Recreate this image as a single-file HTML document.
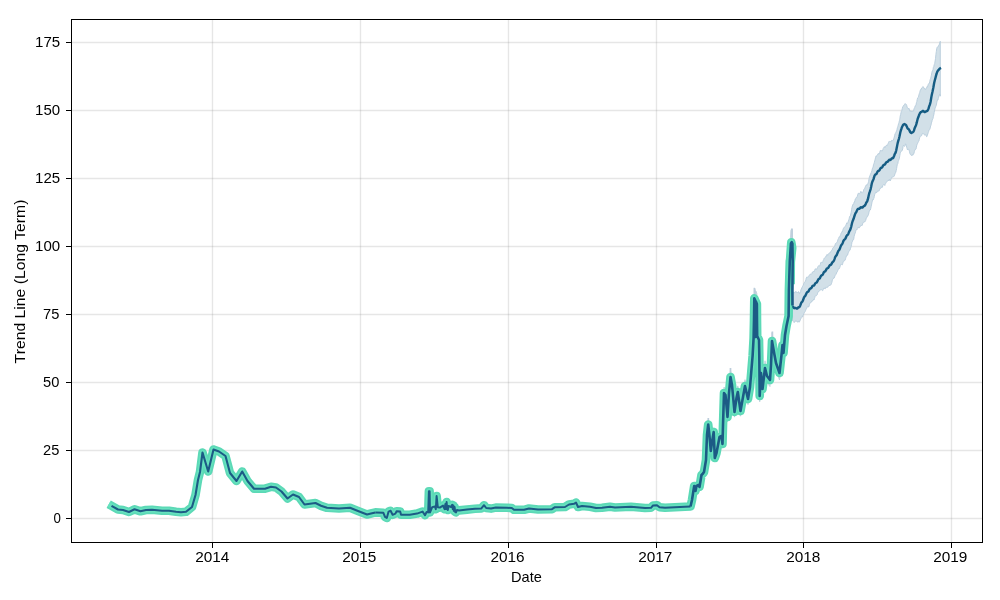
<!DOCTYPE html>
<html><head><meta charset="utf-8"><title>Trend</title>
<style>
html,body{margin:0;padding:0;background:#fff;}
body{width:1000px;height:600px;overflow:hidden;}
svg{display:block;}
text{font-family:"Liberation Sans",sans-serif;font-size:14.4px;fill:#000;}
</style></head><body>
<svg width="1000" height="600" viewBox="0 0 1000 600">
<rect x="0" y="0" width="1000" height="600" fill="#fff"/>

<g stroke="#808080" stroke-opacity="0.2" stroke-width="1.39" fill="none">
<path d="M212.5,19.5V542.5"/>
<path d="M360.5,19.5V542.5"/>
<path d="M508.5,19.5V542.5"/>
<path d="M656.5,19.5V542.5"/>
<path d="M803.5,19.5V542.5"/>
<path d="M951.5,19.5V542.5"/>
<path d="M71.5,518.5H982.5"/>
<path d="M71.5,450.5H982.5"/>
<path d="M71.5,382.5H982.5"/>
<path d="M71.5,314.5H982.5"/>
<path d="M71.5,246.5H982.5"/>
<path d="M71.5,178.5H982.5"/>
<path d="M71.5,110.5H982.5"/>
<path d="M71.5,42.5H982.5"/>
</g>
<defs><clipPath id="c"><rect x="72" y="20" width="910" height="522"/></clipPath></defs>
<g clip-path="url(#c)">
<path d="M112.4,505.7 L118.0,509.1 L123.0,509.6 L129.0,511.7 L134.5,508.9 L140.5,511.0 L146.0,509.6 L152.0,509.3 L162.0,510.3 L169.0,510.3 L176.0,511.5 L181.0,511.9 L186.0,511.5 L192.0,506.4 L195.5,493.9 L198.0,478.2 L200.0,469.8 L202.5,449.3 L208.2,469.2 L213.5,446.2 L219.0,448.3 L225.5,453.0 L230.0,470.8 L236.5,479.2 L242.2,469.2 L247.5,479.2 L254.0,487.3 L265.0,487.3 L271.0,485.3 L276.0,486.0 L281.5,490.2 L287.5,497.5 L293.0,493.3 L299.0,496.0 L304.5,503.8 L315.5,502.3 L321.0,505.2 L327.0,507.3 L339.0,508.0 L350.0,507.3 L358.0,510.6 L367.0,514.3 L371.0,513.3 L375.4,512.1 L383.4,512.5 L385.0,516.7 L386.8,518.0 L388.6,511.3 L390.6,510.4 L392.6,514.6 L395.4,513.4 L396.6,510.8 L400.2,511.3 L401.0,514.6 L409.8,514.6 L417.0,513.4 L422.6,511.3 L425.0,515.0 L426.6,511.7 L428.2,512.1 L428.9,489.9 L429.6,489.9 L430.0,512.1 L432.2,506.7 L435.0,505.8 L435.8,508.8 L436.6,494.9 L437.8,506.7 L439.8,507.1 L443.0,505.0 L444.6,508.8 L445.4,503.3 L446.0,508.5 L446.6,501.2 L447.2,508.5 L447.8,509.6 L448.6,505.4 L449.8,505.8 L451.0,506.4 L452.2,504.1 L452.8,508.5 L453.4,504.9 L453.8,510.4 L454.6,506.4 L455.2,511.7 L456.0,512.1 L457.0,509.6 L459.0,510.0 L467.0,509.2 L475.0,508.3 L481.4,507.9 L484.0,504.6 L486.2,507.5 L491.0,508.1 L495.8,507.1 L507.0,507.3 L511.8,507.5 L514.0,509.4 L524.0,509.4 L529.0,508.0 L538.0,509.1 L552.0,508.8 L555.0,506.7 L565.0,506.4 L569.0,503.8 L574.0,503.1 L576.0,501.7 L578.0,506.4 L582.0,505.4 L590.0,506.2 L596.0,507.5 L602.0,507.3 L610.0,506.2 L615.0,507.0 L631.0,506.2 L645.0,507.5 L651.0,507.3 L653.0,504.9 L657.0,504.6 L659.5,506.7 L665.0,507.3 L675.0,506.7 L685.0,506.2 L690.5,505.9 L692.0,499.1 L694.2,484.4 L695.5,489.7 L696.5,484.4 L698.5,483.4 L699.5,485.5 L701.5,472.9 L703.0,471.3 L704.0,469.8 L706.0,457.2 L707.0,431.0 L708.2,420.0 L709.5,432.0 L710.8,447.8 L712.2,437.3 L713.7,427.8 L714.8,455.1 L716.5,449.9 L719.5,433.1 L721.5,432.0 L722.5,440.4 L723.0,420.5 L724.0,387.0 L725.5,389.1 L727.5,412.1 L729.0,387.0 L730.5,370.2 L732.0,378.6 L734.5,406.9 L736.5,392.2 L737.8,385.9 L740.5,405.8 L743.0,391.2 L745.0,379.6 L748.0,393.3 L750.0,380.7 L752.6,348.2 L753.6,329.3 L754.0,310.5 L754.3,287.8 L755.5,290.6 L755.6,328.3 L755.9,291.1 L756.9,293.7 L757.0,310.5 L757.2,327.2 L759.0,331.4 L759.3,348.2 L759.7,390.1 L761.0,366.0 L762.5,382.8 L765.0,360.8 L767.0,369.2 L770.0,373.4 L771.0,357.6 L772.0,332.5 L774.5,347.2 L776.0,355.5 L779.5,366.0 L781.5,347.2 L782.5,336.7 L783.5,345.1 L785.0,326.2 L786.5,316.8 L788.6,306.3 L788.9,279.0 L789.8,248.6 L790.9,230.3 L791.7,228.9 L792.4,230.3 L792.7,248.6 L792.4,279.0 L792.5,295.3 L792.5,315.7 L792.4,301.0 L792.7,273.4 L792.4,256.7 L791.7,255.5 L790.9,256.7 L789.8,273.4 L788.9,301.0 L788.6,325.7 L786.5,335.2 L785.0,343.8 L783.5,360.9 L782.5,353.3 L781.5,362.8 L779.5,380.0 L776.0,370.5 L774.5,362.8 L772.0,349.5 L771.0,372.4 L770.0,386.6 L767.0,382.8 L765.0,375.2 L762.5,395.2 L761.0,380.0 L759.7,401.9 L759.3,363.8 L759.0,348.6 L757.2,344.8 L757.0,329.5 L756.9,314.3 L755.9,311.9 L755.6,345.7 L755.5,311.4 L754.3,309.0 L754.0,329.5 L753.6,346.7 L752.6,363.8 L750.0,393.3 L748.0,404.7 L745.0,392.4 L743.0,402.8 L740.5,416.2 L737.8,398.1 L736.5,403.8 L734.5,417.1 L732.0,391.4 L730.5,383.8 L729.0,399.0 L727.5,421.9 L725.5,400.9 L724.0,399.0 L723.0,429.5 L722.5,447.6 L721.5,440.0 L719.5,440.9 L716.5,456.1 L714.8,460.9 L713.7,436.2 L712.2,444.7 L710.8,454.2 L709.5,440.0 L708.2,429.0 L707.0,439.0 L706.0,462.8 L704.0,474.2 L703.0,475.7 L701.5,477.1 L699.5,488.5 L698.5,486.6 L696.5,487.6 L695.5,492.3 L694.2,487.6 L692.0,500.9 L690.5,507.1 L685.0,507.4 L675.0,507.7 L665.0,508.3 L659.5,507.7 L657.0,505.8 L653.0,506.1 L651.0,508.3 L645.0,508.5 L631.0,507.4 L615.0,508.0 L610.0,507.4 L602.0,508.3 L596.0,508.5 L590.0,507.4 L582.0,506.6 L578.0,507.6 L576.0,503.3 L574.0,504.5 L569.0,505.2 L565.0,507.6 L555.0,507.7 L552.0,509.6 L538.0,509.9 L529.0,509.0 L524.0,510.2 L514.0,510.2 L511.8,508.5 L507.0,508.3 L495.8,508.1 L491.0,509.1 L486.2,508.5 L484.0,505.8 L481.4,508.9 L475.0,509.3 L467.0,510.0 L459.0,510.8 L457.0,510.4 L456.0,512.7 L455.2,512.3 L454.6,507.6 L453.8,511.2 L453.4,506.1 L452.8,509.5 L452.2,505.5 L451.0,507.6 L449.8,507.0 L448.6,506.6 L447.8,510.4 L447.2,509.5 L446.6,502.8 L446.0,509.5 L445.4,504.7 L444.6,509.6 L443.0,506.2 L439.8,508.1 L437.8,507.7 L436.6,497.1 L435.8,509.6 L435.0,507.0 L432.2,507.7 L430.0,512.7 L429.6,492.5 L428.9,492.5 L428.2,512.7 L426.6,512.3 L425.0,515.4 L422.6,511.9 L417.0,513.8 L409.8,515.0 L401.0,515.0 L400.2,511.9 L396.6,511.6 L395.4,513.8 L392.6,515.0 L390.6,511.2 L388.6,511.9 L386.8,518.0 L385.0,516.9 L383.4,513.1 L375.4,512.7 L371.0,513.7 L367.0,514.7 L358.0,511.4 L350.0,508.3 L339.0,509.0 L327.0,508.3 L321.0,506.4 L315.5,503.7 L304.5,505.2 L299.0,498.0 L293.0,495.7 L287.5,499.5 L281.5,492.8 L276.0,489.0 L271.0,488.3 L265.0,490.1 L254.0,490.1 L247.5,482.8 L242.2,473.8 L236.5,482.8 L230.0,475.2 L225.5,459.0 L219.0,454.7 L213.5,452.8 L208.2,473.8 L202.5,455.7 L200.0,474.2 L198.0,481.8 L195.5,496.1 L192.0,507.6 L186.0,512.1 L181.0,512.5 L176.0,512.1 L169.0,511.1 L162.0,511.1 L152.0,510.1 L146.0,510.4 L140.5,511.6 L134.5,509.7 L129.0,512.3 L123.0,510.4 L118.0,509.9 L112.4,506.9Z" fill="#d2e0e8" stroke="#bccddb" stroke-width="0.8" stroke-linejoin="round"/>
<path d="M792.5,292.3 L792.9,291.8 L793.3,292.6 L793.7,292.4 L794.1,293.1 L794.5,293.0 L794.9,292.0 L795.3,292.1 L795.7,291.5 L796.1,292.1 L796.5,292.1 L797.0,292.2 L797.4,292.6 L797.8,293.0 L798.2,291.9 L798.6,291.6 L799.0,292.4 L799.4,293.7 L799.8,293.4 L800.2,292.1 L800.6,291.6 L801.0,289.3 L801.4,289.1 L801.8,288.0 L802.2,287.1 L802.6,286.3 L803.0,285.6 L803.4,285.2 L803.8,283.4 L804.2,282.7 L804.6,282.4 L805.1,281.6 L805.5,281.1 L805.9,279.4 L806.3,277.9 L806.7,277.1 L807.1,277.3 L807.5,277.1 L807.9,276.9 L808.3,277.0 L808.7,276.4 L809.1,275.3 L809.5,275.1 L809.9,274.7 L810.3,273.9 L810.7,274.2 L811.1,274.1 L811.5,274.2 L811.9,273.5 L812.3,272.1 L812.7,272.4 L813.2,271.3 L813.6,271.4 L814.0,271.9 L814.4,270.7 L814.8,270.1 L815.2,268.8 L815.6,268.9 L816.0,269.2 L816.4,269.1 L816.8,269.3 L817.2,268.1 L817.6,267.4 L818.0,266.5 L818.4,265.9 L818.8,265.5 L819.2,265.9 L819.6,266.2 L820.0,265.0 L820.4,264.2 L820.8,262.4 L821.3,262.3 L821.7,262.3 L822.1,262.9 L822.5,262.7 L822.9,261.3 L823.3,260.2 L823.7,259.6 L824.1,258.2 L824.5,258.2 L824.9,257.8 L825.3,257.3 L825.7,256.5 L826.1,256.7 L826.5,255.3 L826.9,254.6 L827.3,254.6 L827.7,255.4 L828.1,254.4 L828.5,253.9 L828.9,253.3 L829.4,253.1 L829.8,252.7 L830.2,252.7 L830.6,251.8 L831.0,251.3 L831.4,250.6 L831.8,250.4 L832.2,250.0 L832.6,248.4 L833.0,247.7 L833.4,247.5 L833.8,247.2 L834.2,246.9 L834.6,246.4 L835.0,245.1 L835.4,243.6 L835.8,243.3 L836.2,243.0 L836.6,242.7 L837.0,242.5 L837.5,241.2 L837.9,239.7 L838.3,238.7 L838.7,238.2 L839.1,236.8 L839.5,237.0 L839.9,236.3 L840.3,235.5 L840.7,234.5 L841.1,233.2 L841.5,232.5 L841.9,231.7 L842.3,231.9 L842.7,230.6 L843.1,229.2 L843.5,228.3 L843.9,227.6 L844.3,227.5 L844.7,227.0 L845.1,226.4 L845.6,225.8 L846.0,224.8 L846.4,224.0 L846.8,222.8 L847.2,223.5 L847.6,223.3 L848.0,222.1 L848.4,221.0 L848.8,219.8 L849.2,218.4 L849.6,216.4 L850.0,216.1 L850.4,215.8 L850.8,214.0 L851.2,212.2 L851.6,209.5 L852.0,207.3 L852.4,205.9 L852.8,204.6 L853.2,204.8 L853.7,203.6 L854.1,202.1 L854.5,202.0 L854.9,200.6 L855.3,199.0 L855.7,198.7 L856.1,197.6 L856.5,197.4 L856.9,197.4 L857.3,196.4 L857.7,195.0 L858.1,193.4 L858.5,193.3 L858.9,193.0 L859.3,193.8 L859.7,193.5 L860.1,193.2 L860.5,192.1 L860.9,191.3 L861.3,192.1 L861.8,192.9 L862.2,193.0 L862.6,192.6 L863.0,192.0 L863.4,190.9 L863.8,189.4 L864.2,189.1 L864.6,188.6 L865.0,187.6 L865.4,186.6 L865.8,185.8 L866.2,184.9 L866.6,185.0 L867.0,185.4 L867.4,184.2 L867.8,183.8 L868.2,182.9 L868.6,181.4 L869.0,178.9 L869.4,176.9 L869.9,175.7 L870.3,174.7 L870.7,173.6 L871.1,172.9 L871.5,172.1 L871.9,170.8 L872.3,168.9 L872.7,167.8 L873.1,167.1 L873.5,164.9 L873.9,163.8 L874.3,162.6 L874.7,160.9 L875.1,159.4 L875.5,157.8 L875.9,156.2 L876.3,156.5 L876.7,155.5 L877.1,155.3 L877.5,155.0 L878.0,153.9 L878.4,153.4 L878.8,154.2 L879.2,154.0 L879.6,152.6 L880.0,151.3 L880.4,150.3 L880.8,150.9 L881.2,151.2 L881.6,150.4 L882.0,150.9 L882.4,150.9 L882.8,149.9 L883.2,148.5 L883.6,148.0 L884.0,147.2 L884.4,146.6 L884.8,147.7 L885.2,147.3 L885.6,146.3 L886.1,146.1 L886.5,145.1 L886.9,145.4 L887.3,145.5 L887.7,144.4 L888.1,143.5 L888.5,142.5 L888.9,141.5 L889.3,141.6 L889.7,141.4 L890.1,141.7 L890.5,141.3 L890.9,141.9 L891.3,140.9 L891.7,140.3 L892.1,140.1 L892.5,140.8 L892.9,140.5 L893.3,140.4 L893.7,138.9 L894.2,137.3 L894.6,135.9 L895.0,133.9 L895.4,133.4 L895.8,132.6 L896.2,131.4 L896.6,131.3 L897.0,129.4 L897.4,127.7 L897.8,126.5 L898.2,125.2 L898.6,123.6 L899.0,122.4 L899.4,120.7 L899.8,119.2 L900.2,116.2 L900.6,114.6 L901.0,112.8 L901.4,111.3 L901.8,110.5 L902.3,108.5 L902.7,106.9 L903.1,106.2 L903.5,105.9 L903.9,105.0 L904.3,104.8 L904.7,104.2 L905.1,103.6 L905.5,104.0 L905.9,104.0 L906.3,104.5 L906.7,105.3 L907.1,107.0 L907.5,107.8 L907.9,108.5 L908.3,108.9 L908.7,108.1 L909.1,108.6 L909.5,110.1 L909.9,111.3 L910.4,111.0 L910.8,110.9 L911.2,111.3 L911.6,111.1 L912.0,111.6 L912.4,110.9 L912.8,111.4 L913.2,111.4 L913.6,111.0 L914.0,108.8 L914.4,108.0 L914.8,107.3 L915.2,105.7 L915.6,105.7 L916.0,105.1 L916.4,102.7 L916.8,101.7 L917.2,99.5 L917.6,98.0 L918.0,97.7 L918.5,97.0 L918.9,94.9 L919.3,93.6 L919.7,92.5 L920.1,91.0 L920.5,89.7 L920.9,89.1 L921.3,89.3 L921.7,87.9 L922.1,87.6 L922.5,87.4 L922.9,86.5 L923.3,86.8 L923.7,87.8 L924.1,88.5 L924.5,88.2 L924.9,89.4 L925.3,89.4 L925.7,89.6 L926.1,88.2 L926.6,87.5 L927.0,86.7 L927.4,87.2 L927.8,86.0 L928.2,84.5 L928.6,83.8 L929.0,83.9 L929.4,83.1 L929.8,81.3 L930.2,79.5 L930.6,78.9 L931.0,76.9 L931.4,75.2 L931.8,72.8 L932.2,71.1 L932.6,70.8 L933.0,69.5 L933.4,67.3 L933.8,66.5 L934.2,64.7 L934.7,63.5 L935.1,61.0 L935.5,58.6 L935.9,54.5 L936.3,51.6 L936.7,48.8 L937.1,47.4 L937.5,46.9 L937.9,47.2 L938.3,46.3 L938.7,45.3 L939.1,44.9 L939.5,43.5 L939.9,42.1 L940.3,41.3 L940.3,96.2 L939.9,94.1 L939.5,94.5 L939.1,95.7 L938.7,97.2 L938.3,98.6 L937.9,100.1 L937.5,99.8 L937.1,101.3 L936.7,102.9 L936.3,105.3 L935.9,106.1 L935.5,107.1 L935.1,108.3 L934.7,110.0 L934.2,112.5 L933.8,114.9 L933.4,116.2 L933.0,118.5 L932.6,119.0 L932.2,120.2 L931.8,122.0 L931.4,122.9 L931.0,125.2 L930.6,126.0 L930.2,128.1 L929.8,129.3 L929.4,129.8 L929.0,129.9 L928.6,131.7 L928.2,132.7 L927.8,134.0 L927.4,135.2 L927.0,136.6 L926.6,136.7 L926.1,135.4 L925.7,134.7 L925.3,135.1 L924.9,135.4 L924.5,134.8 L924.1,133.8 L923.7,133.8 L923.3,133.8 L922.9,133.6 L922.5,133.3 L922.1,134.3 L921.7,135.4 L921.3,135.9 L920.9,135.6 L920.5,136.4 L920.1,136.6 L919.7,137.8 L919.3,139.2 L918.9,141.1 L918.5,141.5 L918.0,142.5 L917.6,143.4 L917.2,144.2 L916.8,145.1 L916.4,147.1 L916.0,149.0 L915.6,149.5 L915.2,149.5 L914.8,150.2 L914.4,151.5 L914.0,153.1 L913.6,154.2 L913.2,154.2 L912.8,155.1 L912.4,154.6 L912.0,155.7 L911.6,155.2 L911.2,155.3 L910.8,154.9 L910.4,154.5 L909.9,153.6 L909.5,151.8 L909.1,150.4 L908.7,149.3 L908.3,149.2 L907.9,149.6 L907.5,150.0 L907.1,148.7 L906.7,147.3 L906.3,145.9 L905.9,144.3 L905.5,143.8 L905.1,145.5 L904.7,146.1 L904.3,146.5 L903.9,145.8 L903.5,145.2 L903.1,146.3 L902.7,148.9 L902.3,150.2 L901.8,151.1 L901.4,151.1 L901.0,151.6 L900.6,152.2 L900.2,153.5 L899.8,155.5 L899.4,158.3 L899.0,159.5 L898.6,160.6 L898.2,161.6 L897.8,163.7 L897.4,164.2 L897.0,166.1 L896.6,168.7 L896.2,170.6 L895.8,172.2 L895.4,173.0 L895.0,173.8 L894.6,175.1 L894.2,176.1 L893.7,176.6 L893.3,177.0 L892.9,177.3 L892.5,177.1 L892.1,177.3 L891.7,177.4 L891.3,178.3 L890.9,179.3 L890.5,180.4 L890.1,181.0 L889.7,180.2 L889.3,179.3 L888.9,180.2 L888.5,180.9 L888.1,180.4 L887.7,181.0 L887.3,181.4 L886.9,181.8 L886.5,182.1 L886.1,182.4 L885.6,183.6 L885.2,184.2 L884.8,185.5 L884.4,184.9 L884.0,184.3 L883.6,184.5 L883.2,185.1 L882.8,185.7 L882.4,187.3 L882.0,186.7 L881.6,187.5 L881.2,188.0 L880.8,188.1 L880.4,188.2 L880.0,189.2 L879.6,189.3 L879.2,190.8 L878.8,190.8 L878.4,191.2 L878.0,191.1 L877.5,191.1 L877.1,192.0 L876.7,192.7 L876.3,192.7 L875.9,191.9 L875.5,192.5 L875.1,193.7 L874.7,194.6 L874.3,196.3 L873.9,198.5 L873.5,198.8 L873.1,200.0 L872.7,199.7 L872.3,201.0 L871.9,202.9 L871.5,205.0 L871.1,206.8 L870.7,208.8 L870.3,210.0 L869.9,209.9 L869.4,210.7 L869.0,212.0 L868.6,214.2 L868.2,215.2 L867.8,216.2 L867.4,216.1 L867.0,217.5 L866.6,217.7 L866.2,218.0 L865.8,220.3 L865.4,220.8 L865.0,221.8 L864.6,221.8 L864.2,222.0 L863.8,222.2 L863.4,222.5 L863.0,222.7 L862.6,223.9 L862.2,225.3 L861.8,225.7 L861.3,225.0 L860.9,225.8 L860.5,226.3 L860.1,226.5 L859.7,227.4 L859.3,227.2 L858.9,228.2 L858.5,227.3 L858.1,227.1 L857.7,228.1 L857.3,228.6 L856.9,230.0 L856.5,229.5 L856.1,230.0 L855.7,231.3 L855.3,232.9 L854.9,233.8 L854.5,234.9 L854.1,236.6 L853.7,239.3 L853.2,240.0 L852.8,240.0 L852.4,241.7 L852.0,242.2 L851.6,244.5 L851.2,246.2 L850.8,247.7 L850.4,248.7 L850.0,250.2 L849.6,250.5 L849.2,251.0 L848.8,251.5 L848.4,252.5 L848.0,253.7 L847.6,255.0 L847.2,255.1 L846.8,256.0 L846.4,256.1 L846.0,257.3 L845.6,258.6 L845.1,260.2 L844.7,260.6 L844.3,260.9 L843.9,260.9 L843.5,261.3 L843.1,262.3 L842.7,263.7 L842.3,264.8 L841.9,264.5 L841.5,264.0 L841.1,264.8 L840.7,264.8 L840.3,265.7 L839.9,267.2 L839.5,268.4 L839.1,268.1 L838.7,269.1 L838.3,269.3 L837.9,270.1 L837.5,271.5 L837.0,272.4 L836.6,272.5 L836.2,274.0 L835.8,274.6 L835.4,275.0 L835.0,275.8 L834.6,276.9 L834.2,278.0 L833.8,277.9 L833.4,278.7 L833.0,278.8 L832.6,279.4 L832.2,280.9 L831.8,282.7 L831.4,283.8 L831.0,284.8 L830.6,284.9 L830.2,285.4 L829.8,285.4 L829.4,285.5 L828.9,285.6 L828.5,286.2 L828.1,286.4 L827.7,287.4 L827.3,287.1 L826.9,286.9 L826.5,287.5 L826.1,287.6 L825.7,287.4 L825.3,288.7 L824.9,288.5 L824.5,287.9 L824.1,288.8 L823.7,288.3 L823.3,289.3 L822.9,290.5 L822.5,290.6 L822.1,290.4 L821.7,290.1 L821.3,289.6 L820.8,289.8 L820.4,289.8 L820.0,290.4 L819.6,290.7 L819.2,291.1 L818.8,291.6 L818.4,291.5 L818.0,292.3 L817.6,293.2 L817.2,294.7 L816.8,295.1 L816.4,295.7 L816.0,295.6 L815.6,295.6 L815.2,296.0 L814.8,297.6 L814.4,298.7 L814.0,300.0 L813.6,299.5 L813.2,300.2 L812.7,300.9 L812.3,301.0 L811.9,300.9 L811.5,302.0 L811.1,302.3 L810.7,302.9 L810.3,302.8 L809.9,303.2 L809.5,304.3 L809.1,306.0 L808.7,307.0 L808.3,307.1 L807.9,306.4 L807.5,306.9 L807.1,307.5 L806.7,308.5 L806.3,308.6 L805.9,309.8 L805.5,310.7 L805.1,311.6 L804.6,312.1 L804.2,312.9 L803.8,313.7 L803.4,314.8 L803.0,315.4 L802.6,317.0 L802.2,316.8 L801.8,316.8 L801.4,317.3 L801.0,318.6 L800.6,319.2 L800.2,320.3 L799.8,321.4 L799.4,321.2 L799.0,322.3 L798.6,321.2 L798.2,321.1 L797.8,322.0 L797.4,322.2 L797.0,321.3 L796.5,321.3 L796.1,320.7 L795.7,321.0 L795.3,321.0 L794.9,321.9 L794.5,322.1 L794.1,322.6 L793.7,321.5 L793.3,321.1 L792.9,320.7 L792.5,320.9Z" fill="#d2e0e8" stroke="#b7ccdb" stroke-width="0.9" stroke-linejoin="round"/>
<path d="M792,228.5V240M754.5,288V298M772.4,331.4V338M730.5,368V376M708.3,418V424" stroke="#bccddb" stroke-width="1.7" fill="none"/>
<path d="M108.7,504.2 L118.0,509.5 L123.0,510.0 L129.0,512.0 L134.5,509.3 L140.5,511.3 L146.0,510.0 L152.0,509.7 L162.0,510.7 L169.0,510.7 L176.0,511.8 L181.0,512.2 L186.0,511.8 L192.0,507.0 L195.5,495.0 L198.0,480.0 L200.0,472.0 L202.5,452.5 L208.2,471.5 L213.5,449.5 L219.0,451.5 L225.5,456.0 L230.0,473.0 L236.5,481.0 L242.2,471.5 L247.5,481.0 L254.0,488.7 L265.0,488.7 L271.0,486.8 L276.0,487.5 L281.5,491.5 L287.5,498.5 L293.0,494.5 L299.0,497.0 L304.5,504.5 L315.5,503.0 L321.0,505.8 L327.0,507.8 L339.0,508.5 L350.0,507.8 L358.0,511.0 L367.0,514.5 L371.0,513.5 L375.4,512.4 L383.4,512.8 L385.0,516.8 L386.8,518.0 L388.6,511.6 L390.6,510.8 L392.6,514.8 L395.4,513.6 L396.6,511.2 L400.2,511.6 L401.0,514.8 L409.8,514.8 L417.0,513.6 L422.6,511.6 L425.0,515.2 L426.6,512.0 L428.2,512.4 L428.9,491.2 L429.6,491.2 L430.0,512.4 L432.2,507.2 L435.0,506.4 L435.8,509.2 L436.6,496.0 L437.8,507.2 L439.8,507.6 L443.0,505.6 L444.6,509.2 L445.4,504.0 L446.0,509.0 L446.6,502.0 L447.2,509.0 L447.8,510.0 L448.6,506.0 L449.8,506.4 L451.0,507.0 L452.2,504.8 L452.8,509.0 L453.4,505.5 L453.8,510.8 L454.6,507.0 L455.2,512.0 L456.0,512.4 L457.0,510.0 L459.0,510.4 L467.0,509.6 L475.0,508.8 L481.4,508.4 L484.0,505.2 L486.2,508.0 L491.0,508.6 L495.8,507.6 L507.0,507.8 L511.8,508.0 L514.0,509.8 L524.0,509.8 L529.0,508.5 L538.0,509.5 L552.0,509.2 L555.0,507.2 L565.0,507.0 L569.0,504.5 L574.0,503.8 L576.0,502.5 L578.0,507.0 L582.0,506.0 L590.0,506.8 L596.0,508.0 L602.0,507.8 L610.0,506.8 L615.0,507.5 L631.0,506.8 L645.0,508.0 L651.0,507.8 L653.0,505.5 L657.0,505.2 L659.5,507.2 L665.0,507.8 L675.0,507.2 L685.0,506.8 L690.5,506.5 L692.0,500.0 L694.2,486.0 L695.5,491.0 L696.5,486.0 L698.5,485.0 L699.5,487.0 L701.5,475.0 L703.0,473.5 L704.0,472.0 L706.0,460.0 L707.0,435.0 L708.2,424.5 L709.5,436.0 L710.8,451.0 L712.2,441.0 L713.7,432.0 L714.8,458.0 L716.5,453.0 L719.5,437.0 L721.5,436.0 L722.5,444.0 L723.0,425.0 L724.0,393.0 L725.5,395.0 L727.5,417.0 L729.0,393.0 L730.5,377.0 L732.0,385.0 L734.5,412.0 L736.5,398.0 L737.8,392.0 L740.5,411.0 L743.0,397.0 L745.0,386.0 L748.0,399.0 L750.0,387.0 L752.6,356.0 L753.6,338.0 L754.0,320.0 L754.3,298.4 L755.5,301.0 L756.9,304.0 L757.0,320.0 L757.2,336.0 L759.0,340.0 L759.3,356.0 L759.7,396.0 L761.0,373.0 L762.5,389.0 L765.0,368.0 L767.0,376.0 L770.0,380.0 L771.0,365.0 L772.0,341.0 L774.5,355.0 L776.0,363.0 L779.5,373.0 L781.5,355.0 L782.5,345.0 L783.5,353.0 L785.0,335.0 L786.5,326.0 L788.6,316.0 L788.9,290.0 L789.8,261.0 L790.0,261.0 L791.3,242.3 L792.2,248.0 L790.8,262.0 L790.6,284.3" fill="none" stroke="#5cd9b6" stroke-width="8.6" stroke-linejoin="round" stroke-linecap="butt"/>
<path d="M108.7,504.2 L118.0,509.5 L123.0,510.0 L129.0,512.0 L134.5,509.3 L140.5,511.3 L146.0,510.0 L152.0,509.7 L162.0,510.7 L169.0,510.7 L176.0,511.8 L181.0,512.2 L186.0,511.8 L192.0,507.0 L195.5,495.0 L198.0,480.0 L200.0,472.0 L202.5,452.5 L208.2,471.5 L213.5,449.5 L219.0,451.5 L225.5,456.0 L230.0,473.0 L236.5,481.0 L242.2,471.5 L247.5,481.0 L254.0,488.7 L265.0,488.7 L271.0,486.8 L276.0,487.5 L281.5,491.5 L287.5,498.5 L293.0,494.5 L299.0,497.0 L304.5,504.5 L315.5,503.0 L321.0,505.8 L327.0,507.8 L339.0,508.5 L350.0,507.8 L358.0,511.0 L367.0,514.5 L371.0,513.5 L375.4,512.4 L383.4,512.8 L385.0,516.8 L386.8,518.0 L388.6,511.6 L390.6,510.8 L392.6,514.8 L395.4,513.6 L396.6,511.2 L400.2,511.6 L401.0,514.8 L409.8,514.8 L417.0,513.6 L422.6,511.6 L425.0,515.2 L426.6,512.0 L428.2,512.4 L428.9,491.2 L429.6,491.2 L430.0,512.4 L432.2,507.2 L435.0,506.4 L435.8,509.2 L436.6,496.0 L437.8,507.2 L439.8,507.6 L443.0,505.6 L444.6,509.2 L445.4,504.0 L446.0,509.0 L446.6,502.0 L447.2,509.0 L447.8,510.0 L448.6,506.0 L449.8,506.4 L451.0,507.0 L452.2,504.8 L452.8,509.0 L453.4,505.5 L453.8,510.8 L454.6,507.0 L455.2,512.0 L456.0,512.4 L457.0,510.0 L459.0,510.4 L467.0,509.6 L475.0,508.8 L481.4,508.4 L484.0,505.2 L486.2,508.0 L491.0,508.6 L495.8,507.6 L507.0,507.8 L511.8,508.0 L514.0,509.8 L524.0,509.8 L529.0,508.5 L538.0,509.5 L552.0,509.2 L555.0,507.2 L565.0,507.0 L569.0,504.5 L574.0,503.8 L576.0,502.5 L578.0,507.0 L582.0,506.0 L590.0,506.8 L596.0,508.0 L602.0,507.8 L610.0,506.8 L615.0,507.5 L631.0,506.8 L645.0,508.0 L651.0,507.8 L653.0,505.5 L657.0,505.2 L659.5,507.2 L665.0,507.8 L675.0,507.2 L685.0,506.8 L690.5,506.5 L692.0,500.0 L694.2,486.0 L695.5,491.0 L696.5,486.0 L698.5,485.0 L699.5,487.0 L701.5,475.0 L703.0,473.5 L704.0,472.0 L706.0,460.0 L707.0,435.0 L708.2,424.5 L709.5,436.0 L710.8,451.0 L712.2,441.0 L713.7,432.0 L714.8,458.0 L716.5,453.0 L719.5,437.0 L721.5,436.0 L722.5,444.0 L723.0,425.0 L724.0,393.0 L725.5,395.0 L727.5,417.0 L729.0,393.0 L730.5,377.0 L732.0,385.0 L734.5,412.0 L736.5,398.0 L737.8,392.0 L740.5,411.0 L743.0,397.0 L745.0,386.0 L748.0,399.0 L750.0,387.0 L752.6,356.0 L753.6,338.0 L754.0,320.0 L754.3,298.4 L755.5,301.0 L756.9,304.0 L757.0,320.0 L757.2,336.0 L759.0,340.0 L759.3,356.0 L759.7,396.0 L761.0,373.0 L762.5,389.0 L765.0,368.0 L767.0,376.0 L770.0,380.0 L771.0,365.0 L772.0,341.0 L774.5,355.0 L776.0,363.0 L779.5,373.0 L781.5,355.0 L782.5,345.0 L783.5,353.0 L785.0,335.0 L786.5,326.0 L788.6,316.0 L788.9,290.0 L789.8,261.0 L790.0,261.0 L791.3,242.3 L792.2,248.0 L790.8,262.0 L790.6,284.3" fill="none" stroke="#66e1be" stroke-width="5.2" stroke-linejoin="round" stroke-linecap="butt"/>
<path d="M111.5,505.8 L118.0,509.5 L123.0,510.0 L129.0,512.0 L134.5,509.3 L140.5,511.3 L146.0,510.0 L152.0,509.7 L162.0,510.7 L169.0,510.7 L176.0,511.8 L181.0,512.2 L186.0,511.8 L192.0,507.0 L195.5,495.0 L198.0,480.0 L200.0,472.0 L202.5,452.5 L208.2,471.5 L213.5,449.5 L219.0,451.5 L225.5,456.0 L230.0,473.0 L236.5,481.0 L242.2,471.5 L247.5,481.0 L254.0,488.7 L265.0,488.7 L271.0,486.8 L276.0,487.5 L281.5,491.5 L287.5,498.5 L293.0,494.5 L299.0,497.0 L304.5,504.5 L315.5,503.0 L321.0,505.8 L327.0,507.8 L339.0,508.5 L350.0,507.8 L358.0,511.0 L367.0,514.5 L371.0,513.5 L375.4,512.4" fill="none" stroke="#1c5b85" stroke-width="2.1" stroke-linejoin="round" stroke-linecap="butt"/>
<path d="M375.4,512.4 L383.4,512.8 L385.0,516.8 L386.8,518.0 L388.6,511.6 L390.6,510.8 L392.6,514.8 L395.4,513.6 L396.6,511.2 L400.2,511.6 L401.0,514.8 L409.8,514.8 L417.0,513.6 L422.6,511.6 L425.0,515.2 L426.6,512.0 L428.2,512.4 L428.9,491.2 L429.6,491.2 L430.0,512.4 L432.2,507.2 L435.0,506.4 L435.8,509.2 L436.6,496.0 L437.8,507.2 L439.8,507.6 L443.0,505.6 L444.6,509.2 L445.4,504.0 L446.0,509.0 L446.6,502.0 L447.2,509.0 L447.8,510.0 L448.6,506.0 L449.8,506.4 L451.0,507.0 L452.2,504.8 L452.8,509.0 L453.4,505.5 L453.8,510.8 L454.6,507.0 L455.2,512.0 L456.0,512.4 L457.0,510.0 L459.0,510.4 L467.0,509.6 L475.0,508.8 L481.4,508.4 L484.0,505.2 L486.2,508.0 L491.0,508.6 L495.8,507.6 L507.0,507.8 L511.8,508.0 L514.0,509.8 L524.0,509.8 L529.0,508.5 L538.0,509.5 L552.0,509.2 L555.0,507.2 L565.0,507.0 L569.0,504.5 L574.0,503.8 L576.0,502.5 L578.0,507.0 L582.0,506.0 L590.0,506.8 L596.0,508.0 L602.0,507.8 L610.0,506.8 L615.0,507.5 L631.0,506.8 L645.0,508.0 L651.0,507.8 L653.0,505.5 L657.0,505.2 L659.5,507.2 L665.0,507.8 L675.0,507.2 L685.0,506.8 L690.5,506.5" fill="none" stroke="#1c5b85" stroke-width="2.0" stroke-linejoin="round" stroke-linecap="butt"/>
<path d="M690.5,506.5 L692.0,500.0 L694.2,486.0 L695.5,491.0 L696.5,486.0 L698.5,485.0 L699.5,487.0 L701.5,475.0 L703.0,473.5 L704.0,472.0 L706.0,460.0 L707.0,435.0 L708.2,424.5 L709.5,436.0 L710.8,451.0 L712.2,441.0 L713.7,432.0 L714.8,458.0 L716.5,453.0 L719.5,437.0 L721.5,436.0 L722.5,444.0 L723.0,425.0 L724.0,393.0 L725.5,395.0 L727.5,417.0 L729.0,393.0 L730.5,377.0 L732.0,385.0 L734.5,412.0 L736.5,398.0 L737.8,392.0 L740.5,411.0 L743.0,397.0 L745.0,386.0 L748.0,399.0 L750.0,387.0 L752.6,356.0 L753.6,338.0 L754.0,320.0 L754.3,298.4 L755.5,301.0 L755.6,337.0 L755.9,301.5 L756.9,304.0 L757.0,320.0 L757.2,336.0 L759.0,340.0 L759.3,356.0 L759.7,396.0 L761.0,373.0 L762.5,389.0 L765.0,368.0 L767.0,376.0 L770.0,380.0 L771.0,365.0 L772.0,341.0 L774.5,355.0 L776.0,363.0 L779.5,373.0 L781.5,355.0 L782.5,345.0 L783.5,353.0 L785.0,335.0 L786.5,326.0 L788.6,316.0 L788.9,290.0 L789.8,261.0 L790.9,243.5 L791.7,242.2 L792.4,243.5 L792.7,261.0 L792.4,290.0 L792.5,305.5" fill="none" stroke="#1c5b85" stroke-width="2.6" stroke-linejoin="round" stroke-linecap="butt"/>
<path d="M792.5,307.0 L792.9,306.7 L793.3,307.1 L793.7,307.7 L794.1,308.1 L794.5,308.2 L794.9,308.0 L795.3,307.9 L795.7,307.9 L796.1,308.3 L796.5,308.5 L797.0,308.6 L797.4,308.4 L797.8,307.9 L798.2,307.4 L798.6,307.2 L799.0,307.3 L799.4,307.0 L799.8,306.5 L800.2,305.7 L800.6,304.6 L801.0,303.5 L801.4,302.6 L801.8,302.1 L802.2,301.8 L802.6,301.2 L803.0,300.3 L803.4,299.1 L803.8,298.0 L804.2,297.1 L804.6,296.5 L805.1,296.1 L805.5,295.5 L805.9,294.6 L806.3,293.7 L806.7,292.8 L807.1,292.2 L807.5,291.9 L807.9,291.8 L808.3,291.6 L808.7,291.0 L809.1,290.1 L809.5,289.3 L809.9,288.7 L810.3,288.5 L810.7,288.5 L811.1,288.3 L811.5,287.8 L811.9,287.1 L812.3,286.3 L812.7,285.8 L813.2,285.6 L813.6,285.6 L814.0,285.5 L814.4,285.0 L814.8,284.2 L815.2,283.5 L815.6,283.0 L816.0,282.8 L816.4,282.7 L816.8,282.4 L817.2,281.7 L817.6,280.9 L818.0,280.0 L818.4,279.3 L818.8,279.0 L819.2,278.9 L819.6,278.6 L820.0,278.0 L820.4,277.1 L820.8,276.2 L821.3,275.6 L821.7,275.3 L822.1,275.1 L822.5,274.9 L822.9,274.3 L823.3,273.4 L823.7,272.5 L824.1,271.9 L824.5,271.7 L824.9,271.6 L825.3,271.3 L825.7,270.7 L826.1,269.9 L826.5,269.1 L826.9,268.5 L827.3,268.3 L827.7,268.2 L828.1,268.0 L828.5,267.4 L828.9,266.6 L829.4,265.8 L829.8,265.3 L830.2,265.0 L830.6,265.0 L831.0,264.8 L831.4,264.2 L831.8,263.4 L832.2,262.6 L832.6,262.0 L833.0,261.8 L833.4,261.4 L833.8,260.8 L834.2,259.9 L834.6,258.8 L835.0,257.6 L835.4,256.7 L835.8,256.1 L836.2,255.7 L836.6,255.2 L837.0,254.2 L837.5,253.1 L837.9,251.9 L838.3,251.0 L838.7,250.5 L839.1,250.1 L839.5,249.5 L839.9,248.6 L840.3,247.4 L840.7,246.3 L841.1,245.4 L841.5,244.8 L841.9,244.4 L842.3,243.8 L842.7,242.9 L843.1,241.8 L843.5,240.8 L843.9,240.1 L844.3,239.7 L844.7,239.4 L845.1,239.0 L845.6,238.3 L846.0,237.3 L846.4,236.3 L846.8,235.5 L847.2,235.1 L847.6,234.9 L848.0,234.5 L848.4,233.7 L848.8,232.6 L849.2,231.5 L849.6,230.8 L850.0,230.3 L850.4,229.3 L850.8,228.2 L851.2,226.7 L851.6,225.0 L852.0,223.3 L852.4,221.8 L852.8,220.7 L853.2,219.7 L853.7,218.6 L854.1,217.2 L854.5,215.9 L854.9,214.6 L855.3,213.6 L855.7,212.9 L856.1,212.3 L856.5,211.6 L856.9,210.6 L857.3,209.8 L857.7,209.2 L858.1,208.8 L858.5,208.8 L858.9,208.9 L859.3,208.9 L859.7,208.5 L860.1,207.9 L860.5,207.4 L860.9,207.2 L861.3,207.3 L861.8,207.6 L862.2,207.6 L862.6,207.4 L863.0,206.9 L863.4,206.4 L863.8,206.1 L864.2,206.0 L864.6,205.8 L865.0,205.4 L865.4,204.7 L865.8,203.8 L866.2,202.8 L866.6,202.1 L867.0,201.7 L867.4,200.7 L867.8,199.5 L868.2,197.9 L868.6,196.1 L869.0,194.3 L869.4,192.7 L869.9,191.4 L870.3,190.2 L870.7,188.8 L871.1,187.1 L871.5,185.1 L871.9,183.1 L872.3,181.8 L872.7,180.9 L873.1,180.1 L873.5,179.2 L873.9,178.0 L874.3,176.5 L874.7,175.4 L875.1,174.8 L875.5,174.5 L875.9,174.4 L876.3,174.1 L876.7,173.5 L877.1,172.6 L877.5,171.7 L878.0,171.1 L878.4,170.9 L878.8,170.9 L879.2,170.6 L879.6,170.1 L880.0,169.2 L880.4,168.5 L880.8,167.9 L881.2,167.7 L881.6,167.7 L882.0,167.4 L882.4,166.9 L882.8,166.2 L883.2,165.4 L883.6,164.9 L884.0,164.8 L884.4,164.8 L884.8,164.6 L885.2,164.1 L885.6,163.3 L886.1,162.6 L886.5,162.1 L886.9,162.0 L887.3,161.9 L887.7,161.8 L888.1,161.3 L888.5,160.7 L888.9,160.1 L889.3,159.8 L889.7,159.8 L890.1,160.0 L890.5,159.9 L890.9,159.6 L891.3,159.0 L891.7,158.4 L892.1,158.1 L892.5,158.1 L892.9,158.3 L893.3,157.8 L893.7,156.8 L894.2,155.7 L894.6,154.5 L895.0,153.6 L895.4,153.1 L895.8,152.0 L896.2,150.5 L896.6,148.6 L897.0,146.5 L897.4,144.4 L897.8,142.6 L898.2,141.1 L898.6,139.8 L899.0,138.5 L899.4,136.8 L899.8,134.9 L900.2,133.0 L900.6,131.3 L901.0,130.0 L901.4,128.9 L901.8,127.5 L902.3,126.5 L902.7,125.7 L903.1,124.9 L903.5,124.4 L903.9,124.3 L904.3,124.2 L904.7,124.0 L905.1,124.4 L905.5,124.7 L905.9,124.9 L906.3,125.5 L906.7,126.4 L907.1,127.4 L907.5,128.2 L907.9,128.7 L908.3,128.9 L908.7,129.2 L909.1,129.7 L909.5,130.5 L909.9,131.5 L910.4,132.3 L910.8,132.8 L911.2,133.0 L911.6,133.0 L912.0,132.5 L912.4,132.3 L912.8,132.2 L913.2,131.9 L913.6,131.3 L914.0,130.5 L914.4,129.0 L914.8,127.8 L915.2,126.9 L915.6,126.1 L916.0,125.2 L916.4,123.9 L916.8,122.4 L917.2,120.7 L917.6,119.2 L918.0,117.9 L918.5,116.8 L918.9,115.5 L919.3,114.5 L919.7,113.7 L920.1,112.9 L920.5,112.3 L920.9,112.1 L921.3,112.1 L921.7,111.8 L922.1,111.4 L922.5,111.1 L922.9,110.9 L923.3,110.9 L923.7,111.3 L924.1,111.8 L924.5,112.1 L924.9,112.1 L925.3,111.8 L925.7,111.6 L926.1,111.4 L926.6,111.2 L927.0,111.1 L927.4,110.8 L927.8,110.2 L928.2,109.4 L928.6,108.3 L929.0,106.9 L929.4,105.7 L929.8,104.7 L930.2,103.5 L930.6,101.8 L931.0,99.3 L931.4,96.9 L931.8,94.7 L932.2,92.9 L932.6,91.2 L933.0,89.3 L933.4,87.3 L933.8,85.0 L934.2,82.8 L934.7,80.8 L935.1,79.2 L935.5,77.7 L935.9,76.1 L936.3,74.7 L936.7,73.5 L937.1,72.2 L937.5,71.3 L937.9,70.7 L938.3,70.2 L938.7,69.8 L939.1,69.4 L939.5,68.8 L941.0,67.9" fill="none" stroke="#155c83" stroke-width="2.4" stroke-linejoin="round" stroke-linecap="butt"/>
</g>
<g stroke="#000" stroke-width="1" fill="none" shape-rendering="crispEdges">
<path d="M71.5,19.5H982.5V542.5H71.5Z"/>
<path d="M212.5,543V548"/>
<path d="M360.5,543V548"/>
<path d="M508.5,543V548"/>
<path d="M656.5,543V548"/>
<path d="M803.5,543V548"/>
<path d="M951.5,543V548"/>
<path d="M66,518.5H71"/>
<path d="M66,450.5H71"/>
<path d="M66,382.5H71"/>
<path d="M66,314.5H71"/>
<path d="M66,246.5H71"/>
<path d="M66,178.5H71"/>
<path d="M66,110.5H71"/>
<path d="M66,42.5H71"/>
</g>
<g style="filter:grayscale(1)">
<text x="195.2" y="562" textLength="34.2" lengthAdjust="spacingAndGlyphs">2014</text>
<text x="342.2" y="562" textLength="34.2" lengthAdjust="spacingAndGlyphs">2015</text>
<text x="490.4" y="562" textLength="34.2" lengthAdjust="spacingAndGlyphs">2016</text>
<text x="638.2" y="562" textLength="34.2" lengthAdjust="spacingAndGlyphs">2017</text>
<text x="786.2" y="562" textLength="34.2" lengthAdjust="spacingAndGlyphs">2018</text>
<text x="933.2" y="562" textLength="34.2" lengthAdjust="spacingAndGlyphs">2019</text>
<text x="53.4" y="523.2" textLength="7.4" lengthAdjust="spacingAndGlyphs">0</text>
<text x="43.1" y="455.2" textLength="16.3" lengthAdjust="spacingAndGlyphs">25</text>
<text x="43.1" y="387.2" textLength="16.3" lengthAdjust="spacingAndGlyphs">50</text>
<text x="43.1" y="319.2" textLength="16.3" lengthAdjust="spacingAndGlyphs">75</text>
<text x="35.1" y="251.2" textLength="25.1" lengthAdjust="spacingAndGlyphs">100</text>
<text x="35.1" y="183.2" textLength="25.1" lengthAdjust="spacingAndGlyphs">125</text>
<text x="35.1" y="115.2" textLength="25.1" lengthAdjust="spacingAndGlyphs">150</text>
<text x="35.1" y="47.2" textLength="25.1" lengthAdjust="spacingAndGlyphs">175</text>
<text x="511" y="582" textLength="30.8" lengthAdjust="spacingAndGlyphs">Date</text>
<text transform="translate(25.3,363.4) rotate(-90)" x="0" y="0" textLength="163.8" lengthAdjust="spacingAndGlyphs">Trend Line (Long Term)</text>
</g>
</svg></body></html>
